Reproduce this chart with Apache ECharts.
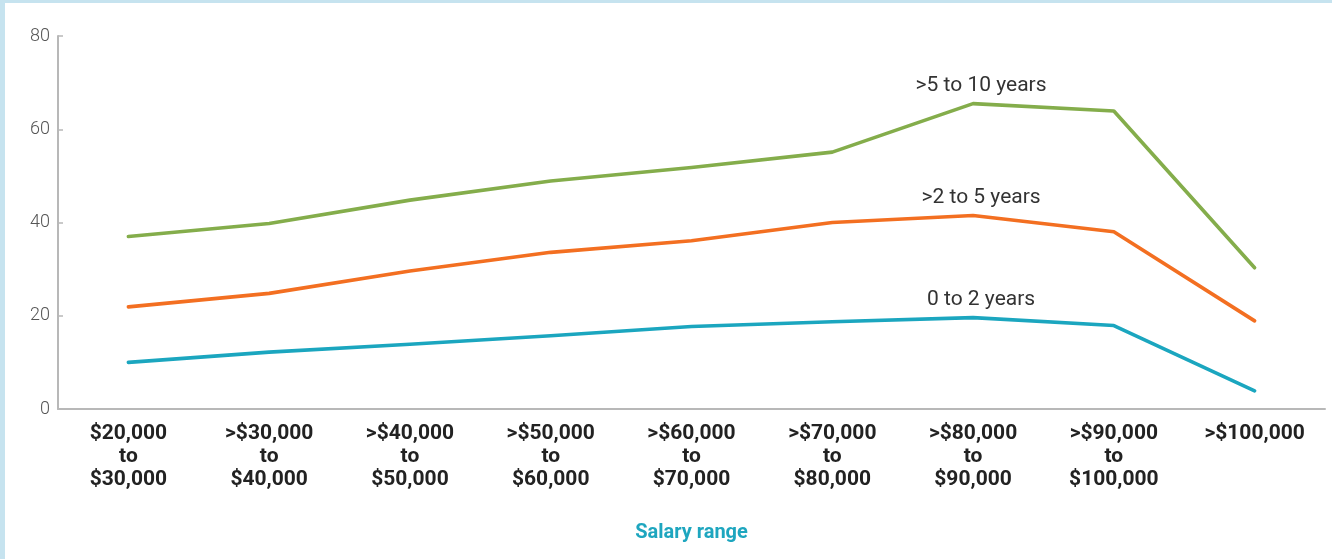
<!DOCTYPE html>
<html>
<head>
<meta charset="utf-8">
<script src="https://cdn.jsdelivr.net/npm/echarts@6/dist/echarts.min.js"></script>
<style>
  html, body { margin: 0; padding: 0; background: #ffffff; }
  #chart { position: absolute; left: 0; top: 0; width: 1332px; height: 559px; }
  .bt { position: absolute; left: 0; top: 0; width: 1332px; height: 3px; background: #c6e3ef; }
  .bl { position: absolute; left: 0; top: 0; width: 5px; height: 559px; background: #c6e3ef; }
</style>
</head>
<body>
<div id="chart"></div>
<div class="bt"></div>
<div class="bl"></div>
<script>
const categories = [
  '$20,000\nto\n$30,000', '>$30,000\nto\n$40,000', '>$40,000\nto\n$50,000',
  '>$50,000\nto\n$60,000', '>$60,000\nto\n$70,000', '>$70,000\nto\n$80,000',
  '>$80,000\nto\n$90,000', '>$90,000\nto\n$100,000', '>$100,000'
];
const seriesNames = ['0 to 2 years', '>2 to 5 years', '>5 to 10 years'];
const years0to2 = [10, 12.2, 13.9, 15.7, 17.7, 18.7, 19.6, 17.9, 3.9];
const years2to5 = [21.9, 24.8, 29.6, 33.6, 36.1, 40, 41.5, 38, 18.9];
const years5to10 = [37, 39.8, 44.8, 48.9, 51.8, 55.1, 65.5, 63.9, 30.3];
const yTicks = { min: 0, max: 80, interval: 20 };
const axisTitle = 'Salary range';
const labelIndex = 6;

const colors = ['#1ba6bf', '#f36f21', '#84ad4b'];
const seriesData = [years0to2, years2to5, years5to10];

const chart = echarts.init(document.getElementById('chart'), null, { renderer: 'canvas' });

const series = seriesData.map((vals, i) => ({
  type: 'line',
  name: seriesNames[i],
  data: vals.map((v, j) => j === labelIndex ? {
    value: v,
    label: {
      show: true,
      position: 'top',
      distance: 7,
      offset: [8, 0],
      formatter: seriesNames[i],
      color: '#333333',
      fontFamily: 'Roboto',
      fontSize: 21
    }
  } : v),
  symbol: 'circle',
  symbolSize: 0.1,
  showSymbol: true,
  smooth: false,
  lineStyle: { color: colors[i], width: 3.6, cap: 'round', join: 'round' },
  itemStyle: { color: colors[i] },
  z: 3 + i
}));

chart.setOption({
  animation: false,
  backgroundColor: 'transparent',
  grid: { left: 58, right: 7, top: 36, bottom: 150 },
  xAxis: {
    type: 'category',
    data: categories,
    boundaryGap: true,
    axisLine: { show: true, lineStyle: { color: '#b8b8b8', width: 2 } },
    axisTick: { show: false },
    axisLabel: {
      interval: 0,
      margin: 13,
      color: '#222222',
      fontFamily: 'Roboto',
      fontWeight: 'bold',
      fontSize: 21,
      lineHeight: 23,
      align: 'center'
    },
    name: axisTitle,
    nameLocation: 'middle',
    nameGap: 114,
    nameTextStyle: {
      color: '#1ea6bf',
      fontFamily: 'Roboto',
      fontWeight: 'bold',
      fontSize: 20
    }
  },
  yAxis: {
    type: 'value',
    min: yTicks.min,
    max: yTicks.max,
    interval: yTicks.interval,
    axisLine: { show: true, lineStyle: { color: '#b8b8b8', width: 2 } },
    axisTick: { show: true, inside: true, length: 5, lineStyle: { color: '#b8b8b8', width: 1.5 } },
    splitLine: { show: false },
    axisLabel: {
      margin: 8,
      color: '#555555',
      fontFamily: 'Roboto',
      fontWeight: 300,
      fontSize: 18,
      padding: [3, 0, 0, 0]
    }
  },
  series: series
});
</script>
</body>
</html>
